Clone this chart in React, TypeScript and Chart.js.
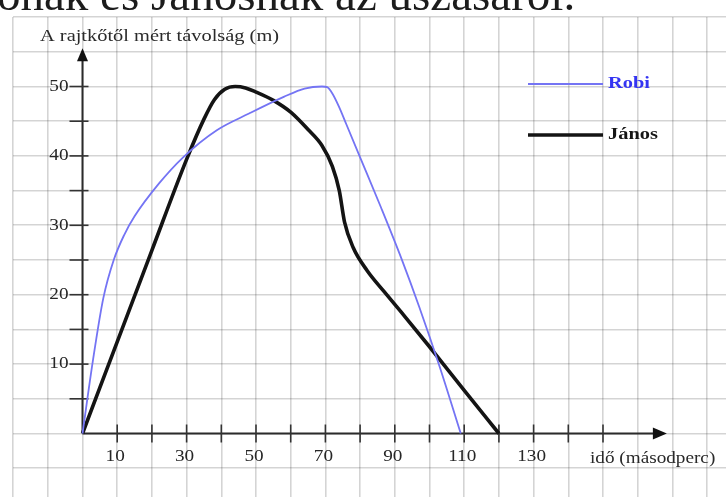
import React, { useEffect, useRef } from "react";
import { Chart, registerables } from "chart.js";

Chart.register(...registerables);

// ---- data ----
const seriesNames = ["Robi", "János"];

const robiTime = [0, 3, 6, 9, 12, 15, 22, 29, 38.7, 48, 58, 64, 69, 70.5, 72, 74, 76, 80, 86, 92, 97, 103, 109];
const robiDist = [0, 10.5, 19.5, 25, 28.6, 31.3, 36, 39.8, 43.7, 46.1, 48.5, 49.7, 50, 49.9, 49, 47, 44.6, 39.8, 32.6, 25.1, 18.3, 9.5, 0];

const janosTime = [0, 10, 20, 30, 35, 38, 41, 44, 47, 50, 55, 60, 65, 69, 72, 74, 75.5, 78, 82, 87, 92.5, 100, 110, 120];
const janosDist = [0, 13.2, 26.4, 39.5, 45.3, 48.1, 49.6, 50, 49.8, 49.2, 48, 46.3, 43.8, 41.5, 38.5, 35, 30.5, 26.8, 23.5, 20.4, 17.1, 12.5, 6.2, 0];

const xTickLabels = [10, 30, 50, 70, 90, 110, 130];
const xTickMarks = [10, 20, 30, 40, 50, 60, 70, 80, 90, 100, 110, 120, 130, 140, 150];
const yTickLabels = [10, 20, 30, 40, 50];
const yTickMarks = [5, 10, 15, 20, 25, 30, 35, 40, 45, 50];

const titleText = "ónak és Jánosnak az úszásáról.";
const yAxisTitle = "A rajtkőtől mért távolság (m)";
const xAxisTitle = "idő (másodperc)";

const SERIF = "'Liberation Serif', 'Times New Roman', serif";

function stretchedText(
  ctx: CanvasRenderingContext2D,
  text: string,
  x: number,
  y: number,
  font: string,
  color: string,
  align: CanvasTextAlign,
  sx = 1.2
) {
  ctx.save();
  ctx.font = font;
  ctx.fillStyle = color;
  ctx.textAlign = align;
  ctx.textBaseline = "middle";
  ctx.translate(x, y);
  ctx.scale(sx, 1);
  ctx.fillText(text, 0, 0);
  ctx.restore();
}

const axesPlugin = {
  id: "paperAxes",
  beforeDatasetsDraw(chart: any) {
    const ctx = chart.ctx as CanvasRenderingContext2D;
    const xs = chart.scales.x;
    const ys = chart.scales.y;
    const ox = xs.getPixelForValue(0);
    const oy = ys.getPixelForValue(0);
    ctx.save();
    ctx.strokeStyle = "#2b2b2b";
    ctx.fillStyle = "#111";
    ctx.lineWidth = 2;
    // x axis
    const xEnd = xs.getPixelForValue(168.4);
    ctx.beginPath();
    ctx.moveTo(ox, oy);
    ctx.lineTo(xEnd - 12, oy);
    ctx.stroke();
    ctx.beginPath();
    ctx.moveTo(xEnd, oy);
    ctx.lineTo(xEnd - 14, oy - 6);
    ctx.lineTo(xEnd - 14, oy + 6);
    ctx.closePath();
    ctx.fill();
    // y axis
    const yEnd = ys.getPixelForValue(55.5);
    ctx.beginPath();
    ctx.moveTo(ox, oy);
    ctx.lineTo(ox, yEnd + 10);
    ctx.stroke();
    ctx.beginPath();
    ctx.moveTo(ox, yEnd);
    ctx.lineTo(ox - 5.5, yEnd + 13);
    ctx.lineTo(ox + 5.5, yEnd + 13);
    ctx.closePath();
    ctx.fill();
    // tick marks
    ctx.lineWidth = 1.6;
    ctx.strokeStyle = "#333";
    xTickMarks.forEach((v) => {
      const px = xs.getPixelForValue(v);
      ctx.beginPath();
      ctx.moveTo(px, oy - 9);
      ctx.lineTo(px, oy + 9);
      ctx.stroke();
    });
    yTickMarks.forEach((v) => {
      const py = ys.getPixelForValue(v);
      ctx.beginPath();
      ctx.moveTo(ox - 13, py);
      ctx.lineTo(ox + 6, py);
      ctx.stroke();
    });
    ctx.restore();
  },
  afterDatasetsDraw(chart: any) {
    const ctx = chart.ctx as CanvasRenderingContext2D;
    const xs = chart.scales.x;
    const ys = chart.scales.y;
    const ox = xs.getPixelForValue(0);
    const oy = ys.getPixelForValue(0);
    const labelFont = `16px ${SERIF}`;
    xTickLabels.forEach((v) => {
      stretchedText(ctx, String(v), xs.getPixelForValue(v) - 2, oy + 23, labelFont, "#262626", "center");
    });
    yTickLabels.forEach((v) => {
      stretchedText(ctx, String(v), ox - 14, ys.getPixelForValue(v), labelFont, "#262626", "right");
    });
    stretchedText(ctx, yAxisTitle, 40, 37, `17px ${SERIF}`, "#2a2a2a", "left");
    stretchedText(ctx, xAxisTitle, 590, oy + 25, `16px ${SERIF}`, "#2a2a2a", "left");

    // page text above the figure (cut off by the picture edge)
    ctx.save();
    ctx.font = `47px ${SERIF}`;
    ctx.fillStyle = "#1c1c1c";
    ctx.textAlign = "left";
    ctx.textBaseline = "alphabetic";
    ctx.fillText(titleText, -3, 10);
    ctx.restore();

    // legend
    const legendY = [84, 135];
    const legendTextColor = ["#3434f2", "#151515"];
    chart.data.datasets.forEach((ds: any, i: number) => {
      ctx.save();
      ctx.strokeStyle = ds.borderColor;
      ctx.lineWidth = ds.borderWidth;
      ctx.beginPath();
      ctx.moveTo(528, legendY[i]);
      ctx.lineTo(603, legendY[i]);
      ctx.stroke();
      ctx.restore();
      stretchedText(ctx, ds.label, 608, legendY[i], `bold 17px ${SERIF}`, legendTextColor[i], "left");
    });
  },
};

export default function App() {
  const canvasRef = useRef<HTMLCanvasElement | null>(null);

  useEffect(() => {
    if (!canvasRef.current) return;
    const pxPerX = 3.47;
    const pxPerY = 6.94;
    const originX = 82.5;
    const originY = 433.5;
    const W = 726;
    const H = 497;
    const xMin = -20;
    const yMax = 60;
    const padLeft = originX + xMin * pxPerX;
    const padTop = originY - yMax * pxPerY;
    const xMax = xMin + (W - padLeft) / pxPerX;
    const yMin = -(H - originY) / pxPerY;

    const chart = new Chart(canvasRef.current, {
      type: "line",
      data: {
        datasets: [
          {
            label: seriesNames[0],
            data: robiTime.map((t, i) => ({ x: t, y: robiDist[i] })),
            borderColor: "#7474f4",
            borderWidth: 1.8,
            pointRadius: 0,
            cubicInterpolationMode: "monotone",
            fill: false,
          },
          {
            label: seriesNames[1],
            data: janosTime.map((t, i) => ({ x: t, y: janosDist[i] })),
            borderColor: "#141414",
            borderWidth: 3.6,
            pointRadius: 0,
            cubicInterpolationMode: "monotone",
            fill: false,
          },
        ],
      },
      options: {
        responsive: false,
        animation: false,
        devicePixelRatio: 1,
        layout: { padding: { left: padLeft, top: padTop, right: 0, bottom: 0 } },
        plugins: { legend: { display: false }, tooltip: { enabled: false } },
        scales: {
          x: {
            type: "linear",
            min: xMin,
            max: xMax,
            afterBuildTicks: (scale: any) => {
              const t = [];
              for (let v = -20; v <= 180; v += 10) t.push({ value: v });
              scale.ticks = t;
            },
            ticks: { display: false },
            border: { display: false },
            grid: { color: "rgba(0,0,0,0.17)", lineWidth: 1.6, drawTicks: false },
          },
          y: {
            type: "linear",
            min: yMin,
            max: yMax,
            afterBuildTicks: (scale: any) => {
              const t = [];
              for (let v = -5; v <= 60; v += 5) t.push({ value: v });
              scale.ticks = t;
            },
            ticks: { display: false },
            border: { display: false },
            grid: { color: "rgba(0,0,0,0.17)", lineWidth: 1.6, drawTicks: false },
          },
        },
      },
      plugins: [axesPlugin],
    } as any);
    return () => chart.destroy();
  }, []);

  return (
    <div style={{ position: "absolute", left: 0, top: 0, width: 726, height: 497, background: "#fff" }}>
      <canvas ref={canvasRef} width={726} height={497} style={{ width: 726, height: 497, display: "block" }} />
    </div>
  );
}
